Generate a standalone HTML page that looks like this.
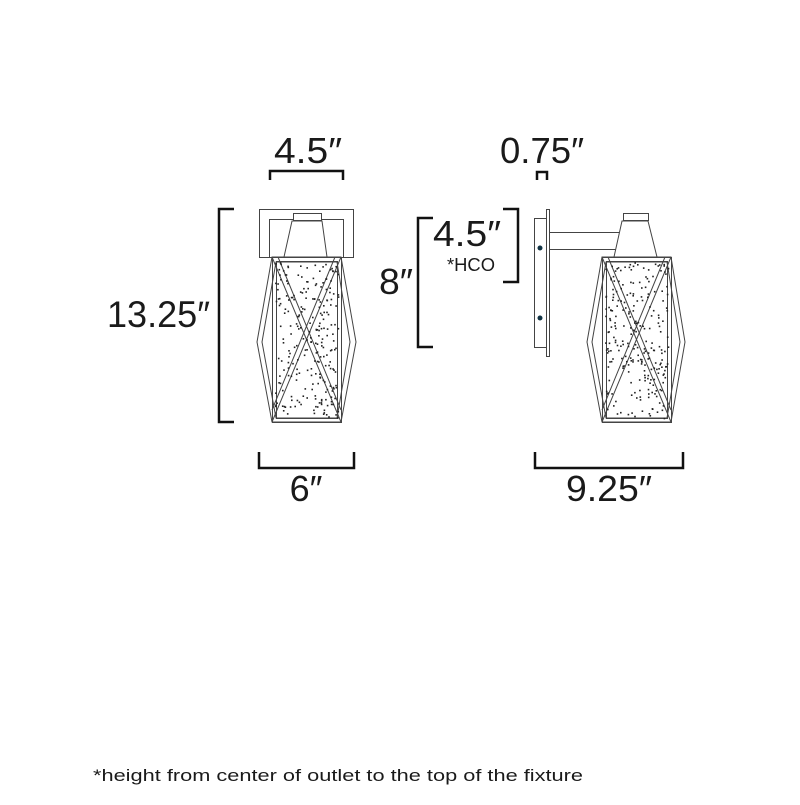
<!DOCTYPE html>
<html><head><style>
html,body{margin:0;padding:0;background:#fff;}
svg text{font-family:"Liberation Sans",sans-serif;fill:#1a1a1a;}
</style></head><body>
<svg id="s" width="800" height="800" viewBox="0 0 800 800" xmlns="http://www.w3.org/2000/svg">
<g fill="none" stroke="#111" stroke-width="2.5">
<polyline points="270,180 270,171 343,171 343,180"/>
<polyline points="234,209 219,209 219,422 234,422"/>
<polyline points="259,452 259,468 354,468 354,452"/>
<polyline points="537,180 537,172 547,172 547,180"/>
<polyline points="433,218 418,218 418,347 433,347"/>
<polyline points="503,209 518,209 518,282 503,282"/>
<polyline points="535,452 535,468 683,468 683,452"/>
</g>
<g fill="none" stroke="#444" stroke-width="1">
<rect x="259.5" y="209.5" width="94" height="48"/>
<rect x="269.5" y="219.5" width="74" height="38"/>
<rect x="293.5" y="213.5" width="28" height="7" fill="#fff"/>
<polygon points="292,221 322,221 327,257 284,257" fill="#fff"/>
<polygon points="272,257 341,257 356,342 341,422 272,422 257,342" fill="#fff"/>
<polygon points="276,262 337,262 350,342 337,418 276,418 262,342"/>
<rect x="272.5" y="257.5" width="69" height="165"/>
<rect x="276.5" y="261.5" width="61" height="157"/>
<line x1="272" y1="257" x2="341" y2="422"/><line x1="278" y1="257" x2="341" y2="410"/>
<line x1="341" y1="257" x2="272" y2="422"/><line x1="335" y1="257" x2="272" y2="410"/>
<rect x="546.5" y="209.5" width="3" height="147"/>
<rect x="534.5" y="218.5" width="12" height="129"/>
<rect x="549.5" y="232.5" width="71" height="17"/>
<rect x="623.5" y="213.5" width="25" height="7" fill="#fff"/>
<polygon points="622,221 648,221 657,257 614,257" fill="#fff"/>
<polygon points="602,257 671,257 685,342 671,422 602,422 587,342" fill="#fff"/>
<polygon points="606,262 667,262 680,342 667,418 606,418 592,342"/>
<rect x="602.5" y="257.5" width="69" height="165"/>
<rect x="606.5" y="261.5" width="61" height="157"/>
<line x1="602" y1="257" x2="671" y2="422"/><line x1="608" y1="257" x2="671" y2="410"/>
<line x1="671" y1="257" x2="602" y2="422"/><line x1="665" y1="257" x2="602" y2="410"/>
</g>
<circle cx="540" cy="248" r="2.5" fill="#134"/>
<circle cx="540" cy="318" r="2.5" fill="#134"/>
<g id="dots" fill="#222"></g>
<text x="308" y="163" font-size="36" text-anchor="middle" textLength="68" lengthAdjust="spacingAndGlyphs">4.5″</text>
<text x="107" y="327" font-size="37" textLength="103" lengthAdjust="spacingAndGlyphs">13.25″</text>
<text x="306" y="501" font-size="36" text-anchor="middle">6″</text>
<text x="542" y="163" font-size="36" text-anchor="middle" textLength="84" lengthAdjust="spacingAndGlyphs">0.75″</text>
<text x="379" y="294" font-size="36" textLength="34" lengthAdjust="spacingAndGlyphs">8″</text>
<text x="433" y="246" font-size="36" textLength="68" lengthAdjust="spacingAndGlyphs">4.5″</text>
<text x="447" y="271" font-size="18" textLength="48" lengthAdjust="spacingAndGlyphs">*HCO</text>
<text x="93" y="781" font-size="17" textLength="490" lengthAdjust="spacingAndGlyphs">*height from center of outlet to the top of the fixture</text>
<text x="609" y="501" font-size="36" text-anchor="middle" textLength="86" lengthAdjust="spacingAndGlyphs">9.25″</text>
</svg>
<script>
var g=document.getElementById('dots'),s=7,r=function(){s=(s*16807)%2147483647;return s/2147483647;};
[272,602].forEach(function(x0){for(var i=0;i<240;i++){var x=x0+3+r()*63,y=262+r()*156;var c=document.createElementNS('http://www.w3.org/2000/svg','rect');c.setAttribute('x',x.toFixed(1));c.setAttribute('y',y.toFixed(1));c.setAttribute('width','1.6');c.setAttribute('height','1.6');g.appendChild(c);}});
</script>
</body></html>
